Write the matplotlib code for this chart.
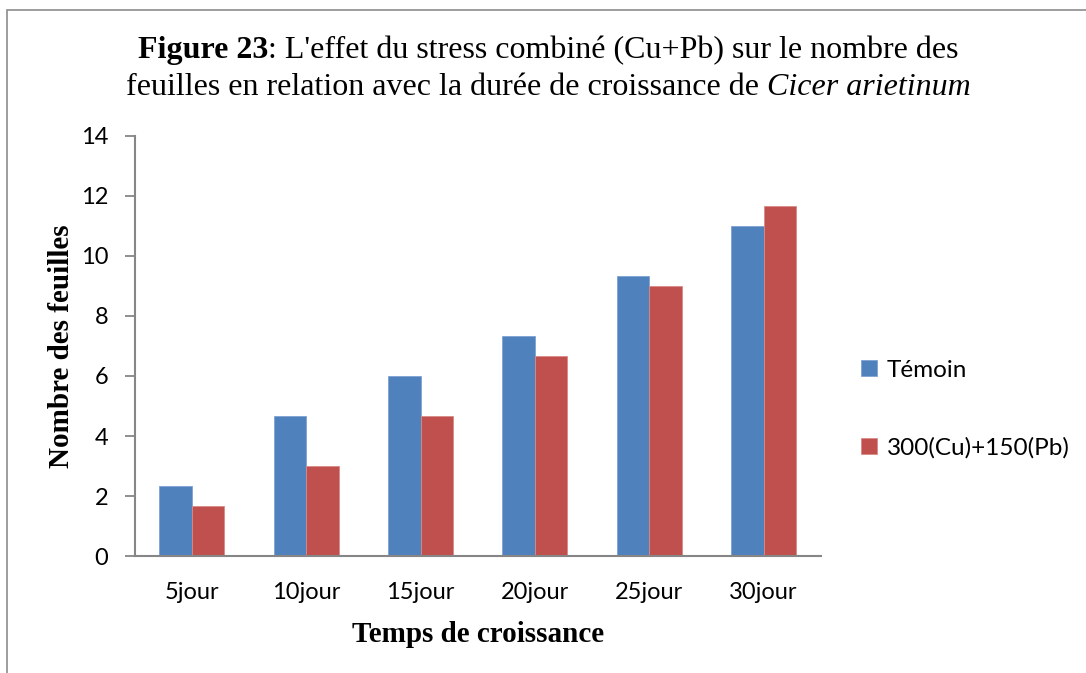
import numpy as np
import matplotlib.pyplot as plt
from matplotlib.patches import Rectangle

# data
jours = ["5jour", "10jour", "15jour", "20jour", "25jour", "30jour"]
temoin = [2.33, 4.67, 6.0, 7.33, 9.33, 11.0]
cu_pb = [1.67, 3.0, 4.67, 6.67, 9.0, 11.67]
series_names = ["Témoin", "300(Cu)+150(Pb)"]
y_ticks = [0, 2, 4, 6, 8, 10, 12, 14]

blue = "#4F81BD"
red = "#C0504D"
axis_gray = "#868686"
tick_font = "Lato"
serif = "Liberation Serif"

fig = plt.figure(figsize=(10.86, 6.73), dpi=100)
ax = fig.add_axes([0.124, 0.1738, 0.6317, 0.6242])

# page border (only left and top visible in the reference)
fig.patches.append(Rectangle((7 / 1086, -0.05), 1.1, 1 - 10 / 673 + 0.05,
                             transform=fig.transFigure, fill=False,
                             edgecolor="#8c8c8c", linewidth=1.2))

x = np.arange(len(jours))
w = 0.284
ax.bar(x - w / 2, temoin, w, color=blue, edgecolor="#7fa2d4", linewidth=0.6,
       label=series_names[0])
ax.bar(x + w / 2, cu_pb, w, color=red, edgecolor="#d98a88", linewidth=0.6,
       label=series_names[1])

ax.set_xlim(-0.5, len(jours) - 0.5)
ax.set_ylim(0, 14)
ax.set_yticks(y_ticks)
ax.set_xticks(x)
ax.set_xticklabels(jours)
ax.tick_params(axis="x", length=0, pad=19, labelsize=17)
ax.tick_params(axis="y", length=7, width=1.3, color=axis_gray, pad=12, labelsize=17)
for lab in ax.get_xticklabels() + ax.get_yticklabels():
    lab.set_fontfamily(tick_font)

for s in ["top", "right"]:
    ax.spines[s].set_visible(False)
for s in ["left", "bottom"]:
    ax.spines[s].set_color(axis_gray)
    ax.spines[s].set_linewidth(1.5)

ax.set_xlabel("Temps de croissance", fontfamily=serif, fontweight="bold",
              fontsize=21, labelpad=13)
ax.set_ylabel("Nombre des feuilles", fontfamily=serif, fontweight="bold",
              fontsize=21, labelpad=4)

leg = ax.legend(loc="center left", bbox_to_anchor=(1.027, 0.35), frameon=False,
                handlelength=0.65, handleheight=0.65, handletextpad=0.4,
                labelspacing=2.3, prop={"family": tick_font, "size": 17.5})


def mixed_line(parts, xc, y, size):
    # draw a centered line made of differently styled pieces
    r = fig.canvas.get_renderer()
    texts = []
    for txt, weight, style in parts:
        t = fig.text(0, y, txt, fontfamily=serif, fontweight=weight,
                     fontstyle=style, fontsize=size, va="baseline", ha="left")
        texts.append(t)
    widths = [t.get_window_extent(r).width for t in texts]
    total = sum(widths)
    left = xc * fig.bbox.width - total / 2
    for t, wd in zip(texts, widths):
        t.set_x(left / fig.bbox.width)
        left += wd


mixed_line([("Figure 23", "bold", "normal"),
            (": L'effet du stress combiné (Cu+Pb) sur le nombre des", "normal", "normal")],
           0.505, 1 - 58 / 673, 23)
mixed_line([("feuilles en relation avec la durée de croissance de ", "normal", "normal"),
            ("Cicer arietinum", "normal", "italic")],
           0.505, 1 - 95 / 673, 23)

fig.savefig("out.png", dpi=100)
